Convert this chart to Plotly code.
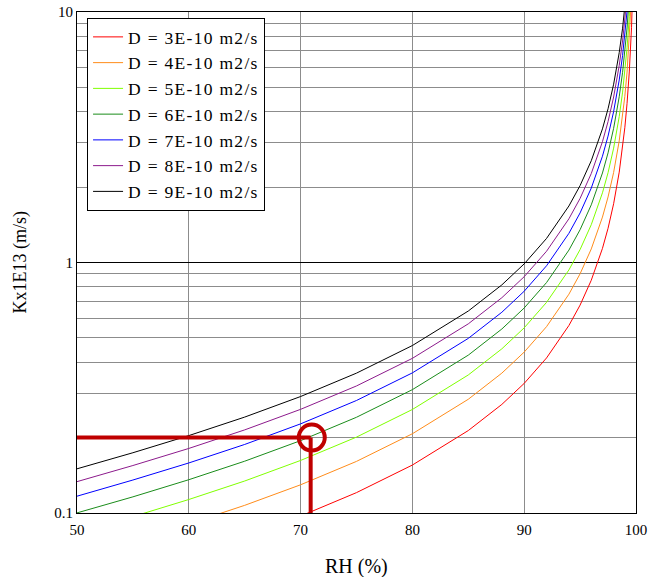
import plotly.graph_objects as go

rh = [50, 55, 60, 65, 70, 75, 80, 85, 88, 90, 92, 94, 95, 96, 97, 97.5, 98, 98.5, 98.8, 99, 99.2, 99.4, 99.6, 99.8]

k_d3 = [0.0500, 0.0580, 0.0679, 0.0805, 0.0972, 0.1206, 0.1554, 0.2134, 0.2713, 0.3292, 0.4159, 0.5605,
        0.6761, 0.8496, 1.1386, 1.3698, 1.7166, 2.2946, 2.8725, 3.4506, 4.3177, 5.7638, 8.6527, 17.32]
k_d4 = [0.0667, 0.0774, 0.0905, 0.1073, 0.1296, 0.1607, 0.2072, 0.2845, 0.3617, 0.4389, 0.5546, 0.7473,
        0.9015, 1.1328, 1.5181, 1.8264, 2.2888, 3.0595, 3.8301, 4.6008, 5.7569, 7.6851, 11.537, 23.10]
k_d5 = [0.0834, 0.0967, 0.1132, 0.1342, 0.1621, 0.2009, 0.2590, 0.3557, 0.4522, 0.5486, 0.6932, 0.9341,
        1.1269, 1.4160, 1.8976, 2.2830, 2.8610, 3.8243, 4.7876, 5.7510, 7.1961, 9.6064, 14.421, 28.87]
k_d6 = [0.1001, 0.1160, 0.1358, 0.1610, 0.1945, 0.2411, 0.3108, 0.4268, 0.5426, 0.6583, 0.8318, 1.1209,
        1.3522, 1.6992, 2.2772, 2.7396, 3.4332, 4.5892, 5.7450, 6.9012, 8.6354, 11.528, 17.305, 34.64]
k_d7 = [0.1167, 0.1354, 0.1584, 0.1878, 0.2269, 0.2813, 0.3626, 0.4979, 0.6330, 0.7680, 0.9705, 1.3077,
        1.5776, 1.9824, 2.6567, 3.1962, 4.0054, 5.3541, 6.7025, 8.0514, 10.075, 13.449, 20.190, 40.42]
k_d8 = [0.1334, 0.1547, 0.1810, 0.2147, 0.2593, 0.3215, 0.4144, 0.5690, 0.7234, 0.8777, 1.1091, 1.4946,
        1.8030, 2.2656, 3.0362, 3.6528, 4.5776, 6.1190, 7.6602, 9.2016, 11.514, 15.370, 23.074, 46.19]
k_d9 = [0.1501, 0.1740, 0.2037, 0.2415, 0.2917, 0.3617, 0.4662, 0.6402, 0.8139, 0.9875, 1.2478, 1.6814,
        2.0284, 2.5488, 3.4158, 4.1094, 5.1498, 6.8838, 8.6175, 10.352, 12.953, 17.291, 25.958, 51.96]

series_names = ["D = 3E-10 m2/s", "D = 4E-10 m2/s", "D = 5E-10 m2/s", "D = 6E-10 m2/s",
                "D = 7E-10 m2/s", "D = 8E-10 m2/s", "D = 9E-10 m2/s"]
series_values = [k_d3, k_d4, k_d5, k_d6, k_d7, k_d8, k_d9]
series_colors = ["#ff0000", "#ff8c1a", "#80ff00", "#1a8c1a", "#0000ff", "#8c1a8c", "#000000"]

# reading guide (design point)
guide_h_x = [50, 70.9]
guide_h_y = [0.2, 0.2]
guide_v_x = [70.9, 70.9]
guide_v_y = [0.2, 0.1]
circle_x = [71.0]
circle_y = [0.2]

x_ticks = [50, 60, 70, 80, 90, 100]
y_ticks = [0.1, 0.2, 0.3, 0.4, 0.5, 0.6, 0.7, 0.8, 0.9,
           1, 2, 3, 4, 5, 6, 7, 8, 9, 10]
y_ticktext = ["0.1", "", "", "", "", "", "", "", "",
              "1", "", "", "", "", "", "", "", "", "10"]

FONT = "Liberation Serif"
guide_color = "#bf0000"

fig = go.Figure()

# darker decade line at 1
fig.add_trace(go.Scatter(x=[50, 100], y=[1, 1], mode="lines",
                         line=dict(color="#000000", width=1), showlegend=False, hoverinfo="skip"))

for name, vals, col in zip(series_names, series_values, series_colors):
    label = '<span style="letter-spacing:1.3px">' + name + '</span>'
    fig.add_trace(go.Scatter(x=rh, y=vals, mode="lines", name=label,
                             line=dict(color=col, width=1)))

fig.add_trace(go.Scatter(x=guide_h_x, y=guide_h_y, mode="lines",
                         line=dict(color=guide_color, width=4), showlegend=False, hoverinfo="skip"))
fig.add_trace(go.Scatter(x=guide_v_x, y=guide_v_y, mode="lines",
                         line=dict(color=guide_color, width=4), showlegend=False, hoverinfo="skip"))
fig.add_trace(go.Scatter(x=circle_x, y=circle_y, mode="markers",
                         marker=dict(symbol="circle-open", size=26, color=guide_color,
                                     line=dict(color=guide_color, width=4)),
                         showlegend=False, hoverinfo="skip", cliponaxis=False))

fig.update_layout(
    width=651, height=577,
    margin=dict(l=77, r=15, t=12, b=64),
    paper_bgcolor="white", plot_bgcolor="white",
    font=dict(family=FONT, size=15, color="black"),
    showlegend=True,
    legend=dict(x=0.018, y=0.988, xanchor="left", yanchor="top",
                bgcolor="white", bordercolor="black", borderwidth=1,
                font=dict(family=FONT, size=17.5, color="black"),
                tracegroupgap=0, itemwidth=30),
    xaxis=dict(range=[50, 100], tickvals=x_ticks, showgrid=True, gridcolor="#8c8c8c", gridwidth=1,
               showline=True, linecolor="black", linewidth=1, mirror=True, ticks="",
               zeroline=False, tickfont=dict(family=FONT, size=15), automargin=False,
               ticklabelstandoff=3),
    yaxis=dict(type="log", range=[-1, 1], tickvals=y_ticks, ticktext=y_ticktext,
               showgrid=True, gridcolor="#8c8c8c", gridwidth=1,
               showline=True, linecolor="black", linewidth=1, mirror=True, ticks="",
               zeroline=False, tickfont=dict(family=FONT, size=15), automargin=False),
    annotations=[
        dict(text="RH (%)", xref="paper", yref="paper", x=0.5, y=0, xanchor="center",
             yanchor="middle", yshift=-53, showarrow=False, font=dict(family=FONT, size=20)),
        dict(text="Kx1E13 (m/s)", xref="paper", yref="paper", x=0, y=0.5, xanchor="center",
             yanchor="middle", xshift=-57, textangle=-90, showarrow=False,
             font=dict(family=FONT, size=18)),
    ],
)

fig.write_html("out.html", config={"displayModeBar": False},
               post_script="document.body.style.margin='0px';")
